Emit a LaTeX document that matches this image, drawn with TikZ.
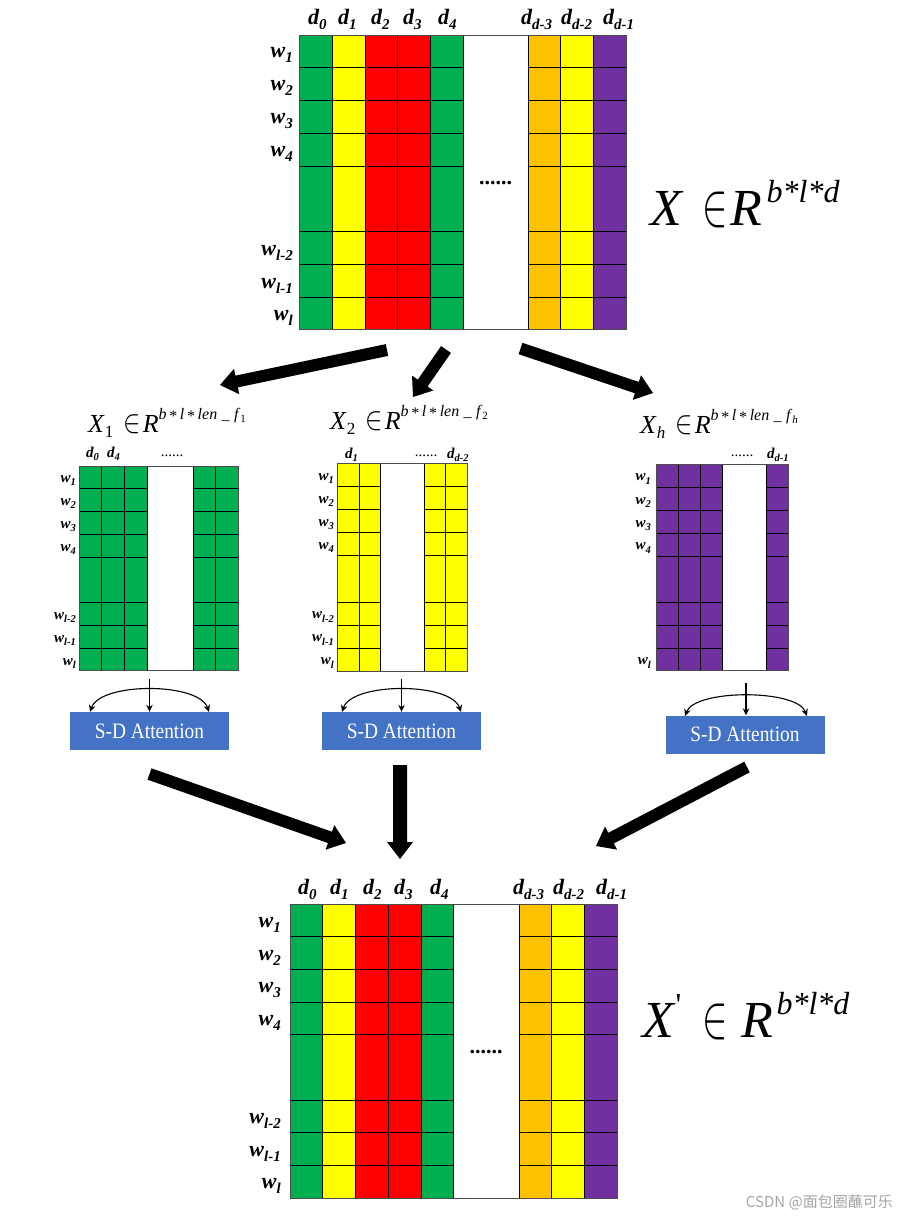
\documentclass[tikz,border=0pt]{standalone}
\usepackage{fontspec}
\setmainfont{Liberation Serif}
\newfontfamily\cjkfont{Noto Sans CJK SC}
\usepackage{graphicx}
\usetikzlibrary{calc,arrows.meta}
\definecolor{mgreen}{HTML}{00B050}
\definecolor{myellow}{HTML}{FFFF00}
\definecolor{mred}{HTML}{FF0000}
\definecolor{morange}{HTML}{FFC000}
\definecolor{mpurple}{HTML}{7030A0}
\definecolor{attblue}{HTML}{4472C4}
\newcommand\BL[2]{{\fontsize{22}{22}\selectfont\bfseries\itshape #1\raisebox{-5pt}{\fontsize{15}{15}\selectfont #2}}}
\newcommand\SL[2]{{\fontsize{15}{15}\selectfont\bfseries\itshape #1\raisebox{-3.5pt}{\fontsize{10.5}{10.5}\selectfont #2}}}
\newcommand\elem[2]{\scalebox{#1}[#2]{\fontsize{10}{10}\selectfont$\in$}}
\newcommand\subttl[1]{\raisebox{13pt}{\fontsize{16}{16}\selectfont\textit{b}\,\raisebox{-2pt}{*}\,\textit{l}\,\raisebox{-2pt}{*}\,\textit{len}\;\_\;\textit{f}\raisebox{-3pt}{\fontsize{11}{11}\selectfont #1}}}
\newcommand\mgrid[6]{%
  \foreach \yy in {#6} \draw[gridline] (#1,\yy) -- (#2,\yy);
  \foreach \xx in {#5} \draw[gridline] (\xx,#3) -- (\xx,#4);
}
\newcommand\blockarr[4]{%
  \coordinate (hb) at ($(#2)!17pt!(#1)$);
  \fill[black] ($(#1)!#3!90:(#2)$) -- ($(hb)!#3!-90:(#1)$) -- ($(hb)!#4!-90:(#1)$) -- (#2) -- ($(hb)!#4!90:(#1)$) -- ($(hb)!#3!90:(#1)$) -- ($(#1)!#3!-90:(#2)$) -- cycle;
}
\begin{document}
\begin{tikzpicture}[x=1pt,y=-1pt,
  gridline/.style={draw=black,line width=0.8pt},
  outerline/.style={draw=black!70,line width=0.9pt},
  wl/.style={inner sep=0pt,anchor=base east},
  dl/.style={inner sep=0pt,anchor=base west},
  dotsl/.style={inner sep=0pt,anchor=base},
  att/.style={rectangle,fill=attblue,minimum width=159pt,minimum height=38pt,inner sep=0pt,text=white,font=\fontsize{22}{22}\selectfont},
  conn/.style={line width=1.1pt,-{Stealth[length=7pt,width=6.5pt]}},
  conn2/.style={line width=1.1pt,{Stealth[length=7pt,width=6.5pt]}-{Stealth[length=7pt,width=6.5pt]}}
]
\useasboundingbox (0,0) rectangle (897,1217);
\fill[white] (0,0) rectangle (897,1217);

% ---------- top matrix ----------
\foreach \a/\b/\c in {299/332/mgreen,332/365/myellow,365/397.5/mred,397.5/430/mred,430/463/mgreen,528/560.5/morange,560.5/593/myellow,593/626/mpurple}
  \fill[\c] (\a,35) rectangle (\b,329.5);
\mgrid{299}{463}{35}{329.5}{332,365,397.5,430,463}{67.7,100.3,133.3,166,231.7,264.3,297.3}
\mgrid{528}{626}{35}{329.5}{528,560.5,593}{67.7,100.3,133.3,166,231.7,264.3,297.3}
\draw[outerline] (299,35) rectangle (626,329.5);
\node[dl] (td0) at (308,25) {\BL{d}{0}};
\node[dl] (td1) at (338,25) {\BL{d}{1}};
\node[dl] (td2) at (371,25) {\BL{d}{2}};
\node[dl] (td3) at (403,25) {\BL{d}{3}};
\node[dl] (td4) at (438,25) {\BL{d}{4}};
\node[dl] (tdd3) at (521,25) {\BL{d}{d-3}};
\node[dl] (tdd2) at (561,25) {\BL{d}{d-2}};
\node[dl] (tdd1) at (603,25) {\BL{d}{d-1}};
\node[wl] (tw1) at (293,58) {\BL{w}{1}};
\node[wl] (tw2) at (293,91) {\BL{w}{2}};
\node[wl] (tw3) at (293,124) {\BL{w}{3}};
\node[wl] (tw4) at (293,157) {\BL{w}{4}};
\node[wl] (twl2) at (293,255) {\BL{w}{l-2}};
\node[wl] (twl1) at (293,288) {\BL{w}{l-1}};
\node[wl] (twl) at (293,320) {\BL{w}{l}};
\node[dotsl] (tdots) at (495.5,185) {\fontsize{22}{22}\selectfont\bfseries ......};
\node[inner sep=0pt,anchor=base west] (tform) at (650,225) {\fontsize{52}{52}\selectfont\textit{X}\hspace{19pt}\elem{3.8}{6.2}\hspace{3pt}\textit{R}\hspace{4pt}\raisebox{23pt}{\fontsize{32}{32}\selectfont\textit{b*l*d}}};

% ---------- split arrows ----------
\coordinate (a1s) at (387,350); \coordinate (a1e) at (220,385);
\coordinate (a2s) at (446,349.5); \coordinate (a2e) at (413,397);
\coordinate (a3s) at (520.5,348.5); \coordinate (a3e) at (653,393);
\blockarr{a1s}{a1e}{6pt}{13pt}
\blockarr{a2s}{a2e}{6pt}{13pt}
\blockarr{a3s}{a3e}{6pt}{13pt}

% ---------- green sub-matrix ----------
\fill[mgreen] (79,466) rectangle (147.7,670.7);
\fill[mgreen] (193.3,466) rectangle (238.3,670.7);
\mgrid{79}{147.7}{466}{670.7}{101.7,124.3,147.7}{488.7,511.7,534.3,557.3,602.3,625.7,648.7}
\mgrid{193.3}{238.3}{466}{670.7}{193.3,215.7}{488.7,511.7,534.3,557.3,602.3,625.7,648.7}
\draw[outerline] (79,466) rectangle (238.3,670.7);
\node[inner sep=0pt,anchor=base west] (t1) at (88,432) {\fontsize{26}{26}\selectfont\textit{X}\raisebox{-5pt}{\fontsize{17}{17}\selectfont 1}\hspace{10pt}\elem{2.6}{3.3}\hspace{2pt}\textit{R}\subttl{1}};
\node[dl] (gd0) at (86,457) {\SL{d}{0}};
\node[dl] (gd4) at (107,457) {\SL{d}{4}};
\node[dotsl] (gdots) at (172,456) {\fontsize{15}{15}\selectfont ......};
\node[wl] (gw1) at (76,482) {\SL{w}{1}};
\node[wl] (gw2) at (76,505) {\SL{w}{2}};
\node[wl] (gw3) at (76,528) {\SL{w}{3}};
\node[wl] (gw4) at (76,551) {\SL{w}{4}};
\node[wl] (gwl2) at (76,619) {\SL{w}{l-2}};
\node[wl] (gwl1) at (76,642) {\SL{w}{l-1}};
\node[wl] (gwl) at (76,665) {\SL{w}{l}};

% ---------- yellow sub-matrix ----------
\fill[myellow] (337.7,463.3) rectangle (380.7,671);
\fill[myellow] (424.3,463.3) rectangle (467.3,671);
\mgrid{337.7}{380.7}{463.3}{671}{359.3,380.7}{486.7,509.3,532.7,555.3,602,625,648.3}
\mgrid{424.3}{467.3}{463.3}{671}{424.3,445.7}{486.7,509.3,532.7,555.3,602,625,648.3}
\draw[outerline] (337.7,463.3) rectangle (467.3,671);
\node[inner sep=0pt,anchor=base west] (t2) at (330,429) {\fontsize{26}{26}\selectfont\textit{X}\raisebox{-5pt}{\fontsize{17}{17}\selectfont 2}\hspace{10pt}\elem{2.6}{3.3}\hspace{2pt}\textit{R}\subttl{2}};
\node[dl] (yd1) at (345,458) {\SL{d}{1}};
\node[dotsl] (ydots) at (426,456) {\fontsize{15}{15}\selectfont ......};
\node[dl] (ydd2) at (447,458) {\SL{d}{d-2}};
\node[wl] (yw1) at (334,480) {\SL{w}{1}};
\node[wl] (yw2) at (334,503) {\SL{w}{2}};
\node[wl] (yw3) at (334,526) {\SL{w}{3}};
\node[wl] (yw4) at (334,549) {\SL{w}{4}};
\node[wl] (ywl2) at (334,618.5) {\SL{w}{l-2}};
\node[wl] (ywl1) at (334,641.7) {\SL{w}{l-1}};
\node[wl] (ywl) at (334,664.7) {\SL{w}{l}};

% ---------- purple sub-matrix ----------
\fill[mpurple] (656,464) rectangle (722.7,670.7);
\fill[mpurple] (766.7,464) rectangle (788.7,670.7);
\mgrid{656}{722.7}{464}{670.7}{678.3,700.7,722.7}{487.3,510.7,533.3,556,602,625.3,648.3}
\mgrid{766.7}{788.7}{464}{670.7}{766.7}{487.3,510.7,533.3,556,602,625.3,648.3}
\draw[outerline] (656,464) rectangle (788.7,670.7);
\node[inner sep=0pt,anchor=base west] (t3) at (640,433) {\fontsize{26}{26}\selectfont\textit{X}\raisebox{-5pt}{\fontsize{17}{17}\selectfont\textit{h}}\hspace{10pt}\elem{2.6}{3.3}\hspace{2pt}\textit{R}\subttl{\textit{h}}};
\node[dotsl] (pdots) at (742,456) {\fontsize{15}{15}\selectfont ......};
\node[dl] (pdd1) at (767,458) {\SL{d}{d-1}};
\node[wl] (pw1) at (651,480.7) {\SL{w}{1}};
\node[wl] (pw2) at (651,504) {\SL{w}{2}};
\node[wl] (pw3) at (651,527) {\SL{w}{3}};
\node[wl] (pw4) at (651,549.7) {\SL{w}{4}};
\node[wl] (pwl) at (651,664.5) {\SL{w}{l}};

% ---------- attention boxes ----------
\node[att] (att1) at (149.5,731) {\scalebox{0.88}[1]{S-D Attention}};
\node[att] (att2) at (401.5,731) {\scalebox{0.88}[1]{S-D Attention}};
\node[att] (att3) at (745,734.5) {\scalebox{0.88}[1]{S-D Attention}};
\coordinate (s1) at (149.5,679);
\coordinate (s2) at (401.5,679);
\coordinate (s3) at (746,683);
\draw[conn] (s1) -- (s1 |- att1.north);
\draw[conn] (s2) -- (s2 |- att2.north);
\draw[conn] (s3) -- (s3 |- att3.north);
\draw[conn2] (90,712) .. controls (100,682) and (199,682) .. (209,712);
\draw[conn2] (342,712) .. controls (352,682) and (451,682) .. (461,712);
\draw[conn2] (685,716) .. controls (695,689) and (797,689) .. (807,716);

% ---------- merge arrows ----------
\coordinate (b1s) at (149.5,774); \coordinate (b1e) at (346,843);
\coordinate (b2s) at (400,765); \coordinate (b2e) at (400,859);
\coordinate (b3s) at (747,767); \coordinate (b3e) at (596,846);
\blockarr{b1s}{b1e}{6pt}{13pt}
\blockarr{b2s}{b2e}{7pt}{13pt}
\blockarr{b3s}{b3e}{6pt}{13pt}

% ---------- bottom matrix ----------
\foreach \a/\b/\c in {290/322.7/mgreen,322.7/355.7/myellow,355.7/388.3/mred,388.3/421/mred,421/453.3/mgreen,519/551.7/morange,551.7/584.3/myellow,584.3/617.3/mpurple}
  \fill[\c] (\a,904.3) rectangle (\b,1198);
\mgrid{290}{453.3}{904.3}{1198}{322.7,355.7,388.3,421,453.3}{936.7,969.3,1002,1034.7,1100,1132.7,1165.3}
\mgrid{519}{617.3}{904.3}{1198}{519,551.7,584.3}{936.7,969.3,1002,1034.7,1100,1132.7,1165.3}
\draw[outerline] (290,904.3) rectangle (617.3,1198);
\node[dl] (bd0) at (298,894) {\BL{d}{0}};
\node[dl] (bd1) at (330,894) {\BL{d}{1}};
\node[dl] (bd2) at (363,894) {\BL{d}{2}};
\node[dl] (bd3) at (394,894) {\BL{d}{3}};
\node[dl] (bd4) at (430,894) {\BL{d}{4}};
\node[dl] (bdd3) at (513,894) {\BL{d}{d-3}};
\node[dl] (bdd2) at (553,894) {\BL{d}{d-2}};
\node[dl] (bdd1) at (596,894) {\BL{d}{d-1}};
\node[wl] (bw1) at (281,927.5) {\BL{w}{1}};
\node[wl] (bw2) at (281,960) {\BL{w}{2}};
\node[wl] (bw3) at (281,992.7) {\BL{w}{3}};
\node[wl] (bw4) at (281,1025.3) {\BL{w}{4}};
\node[wl] (bwl2) at (281,1123.3) {\BL{w}{l-2}};
\node[wl] (bwl1) at (281,1156) {\BL{w}{l-1}};
\node[wl] (bwl) at (281,1188.7) {\BL{w}{l}};
\node[dotsl] (bdots) at (486,1053) {\fontsize{22}{22}\selectfont\bfseries ......};
\node[inner sep=0pt,anchor=base west] (bform) at (642,1037) {\fontsize{52}{52}\selectfont\textit{X}\raisebox{22pt}{\fontsize{32}{32}\selectfont\textquotesingle}\hspace{21pt}\elem{3.8}{6.2}\hspace{14pt}\textit{R}\hspace{3pt}\raisebox{23pt}{\fontsize{32}{32}\selectfont\textit{b*l*d}}};

\node[inner sep=0pt,anchor=base east,text=black!35] (wm) at (893,1207) {\fontsize{15}{15}\cjkfont CSDN @面包圈蘸可乐};
\end{tikzpicture}
\end{document}
